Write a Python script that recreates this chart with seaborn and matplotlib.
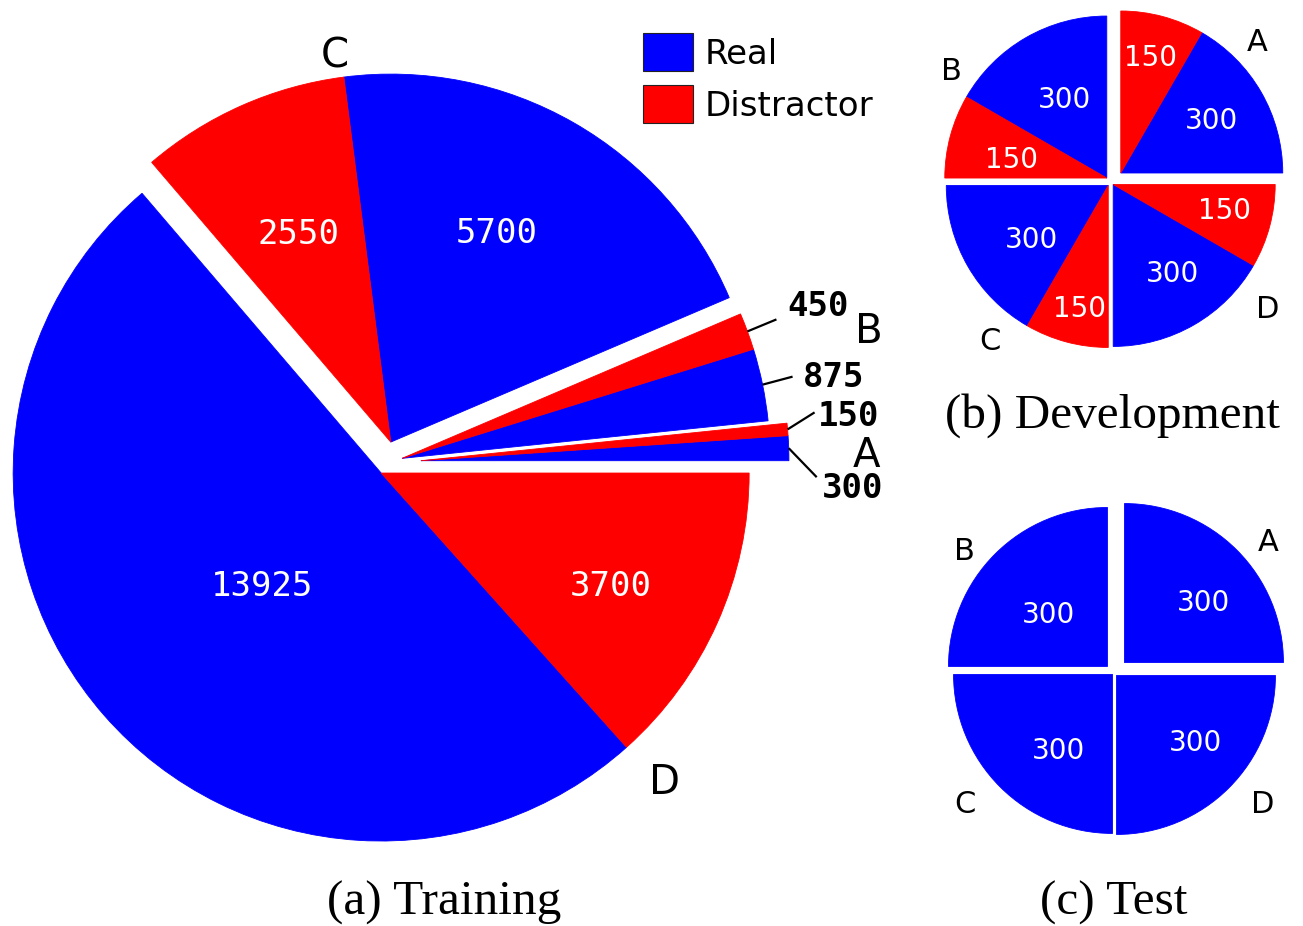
import numpy as np
import matplotlib
matplotlib.use("Agg")
import matplotlib.pyplot as plt
import seaborn as sns
from matplotlib.patches import Patch

# ---------------------------------------------------------------- data
groups = ["A", "B", "C", "D"]
series = ["Real", "Distractor"]

train_real = [300, 875, 5700, 13925]
train_distractor = [150, 450, 2550, 3700]

dev_real = [300, 300, 300, 300]
dev_distractor = [150, 150, 150, 150]

test_real = [300, 300, 300, 300]
test_distractor = [0, 0, 0, 0]

captions = ["(a) Training", "(b) Development", "(c) Test"]

# --------------------------------------------------------------- style
PALETTE = ["#0000FF", "#FF0000"]
sns.set_theme(style="white")
sns.set_palette(PALETTE)
plt.rcParams["font.family"] = ["DejaVu Sans"]
plt.rcParams["text.color"] = "black"

W, H = 1303, 926
fig = plt.figure(figsize=(W / 100, H / 100), dpi=100)


def pie_axes(cx, cy, r, xlim, ylim):
    """Axes whose unit length is r pixels, pie origin at pixel (cx, cy)."""
    left = cx + xlim[0] * r
    bottom = cy - ylim[0] * r
    ax = fig.add_axes([left / W, 1 - bottom / H,
                       (xlim[1] - xlim[0]) * r / W, (ylim[1] - ylim[0]) * r / H])
    return ax


def draw_pie(ax, real, distractor, explode, xlim, ylim):
    values = np.column_stack([real, distractor]).astype(float)
    total = values.sum()
    start = 0.0
    out = []
    for g, pair in enumerate(values):
        span = 360.0 * pair.sum() / total
        mid = np.deg2rad(start + span / 2)
        centre = (explode[g] * np.cos(mid), explode[g] * np.sin(mid))
        wedges, _ = ax.pie(pair / total, colors=PALETTE, startangle=start,
                           counterclock=True, normalize=False, center=centre,
                           radius=1.0, wedgeprops=dict(linewidth=0.6))
        for w, v in zip(wedges, pair):
            w.set_edgecolor(w.get_facecolor())
            w.set_visible(v > 0)
        out.append(wedges)
        start += span
    ax.set_xlim(*xlim)
    ax.set_ylim(*ylim)
    ax.set_axis_off()
    return values, out


def polar(w, ang_deg, frac):
    a = np.deg2rad(ang_deg)
    cx, cy = w.center
    return cx + frac * w.r * np.cos(a), cy + frac * w.r * np.sin(a)


def mid_angle(w):
    return 0.5 * (w.theta1 + w.theta2)


def inside_labels(ax, values, wedges, spec, **kw):
    for g in range(len(values)):
        for k in range(2):
            s = spec[2 * g + k]
            if s is None or values[g][k] == 0:
                continue
            w = wedges[g][k]
            x, y = polar(w, mid_angle(w) + s[0], s[1])
            ax.text(x, y, f"{int(values[g][k])}", color="white", ha="center",
                    va="center_baseline", clip_on=False, **kw)


def group_letters(ax, wedges, spec, size):
    for g, name in enumerate(groups):
        ang, frac = spec[g]
        x, y = polar(wedges[g][0], ang, frac)
        ax.text(x, y, name, ha="center", va="center_baseline", fontsize=size,
                color="black", clip_on=False)


# ------------------------------------------------------ (a) training pie
R_A = 368.0
lim_a = ((-1.04, 1.42), (-1.2, 1.22))
ax_a = pie_axes(386.0, 462.5, R_A, *lim_a)
tr_vals, tr_w = draw_pie(ax_a, train_real, train_distractor,
                         [0.095, 0.045, 0.057, 0.0315], *lim_a)

inside_labels(ax_a, tr_vals, tr_w,
              [None, None, None, None,
               (3.2, 0.644), (-0.4, 0.625), (1.5, 0.441), (-1.5, 0.692)],
              family="DejaVu Sans Mono", fontsize=24.5)

# small slices: labelled outside with leader lines (offsets in pixels)
leaders = {(0, 0): ((28, -29), (5, -8)),
           (0, 1): ((27, 17), (3, -1)),
           (1, 0): ((30, 8), (10, 3)),
           (1, 1): ((29, 12), (11, 16))}
for (g, k), ((lx, ly), (tx, ty)) in leaders.items():
    w = tr_w[g][k]
    x0, y0 = polar(w, mid_angle(w), 1.0)
    x1, y1 = x0 + lx / R_A, y0 + ly / R_A
    ax_a.plot([x0, x1], [y0, y1], color="black", lw=1.6, clip_on=False,
              solid_capstyle="butt")
    ax_a.text(x1 + tx / R_A, y1 + ty / R_A, f"{int(tr_vals[g][k])}",
              ha="left", va="center_baseline", family="DejaVu Sans Mono",
              fontweight="bold", fontsize=24.5, color="black", clip_on=False)

group_letters(ax_a, tr_w, [(1.2, 1.212), (15.7, 1.318), (98.1, 1.07), (312.9, 1.132)], 29)

# --------------------------------------------------- (b) development pie
R_B = 162.0
lim_b = ((-1.35, 1.35), (-1.35, 1.35))
ax_b = pie_axes(1111.25, 182.5, R_B, *lim_b)
dv_vals, dv_w = draw_pie(ax_b, dev_real, dev_distractor,
                         [0.083, 0.039, 0.026, 0.017], *lim_b)
inside_labels(ax_b, dv_vals, dv_w,
              [(1, 0.657), (1, 0.75), (-2.2, 0.565), (2.5, 0.6),
               (3.7, 0.573), (1.4, 0.765), (4.6, 0.65), (3, 0.705)],
              fontsize=20)
group_letters(ax_b, dv_w, [(44.5, 1.18), (144.8, 1.177), (232.4, 1.196), (321.7, 1.217)], 22)

# ---------------------------------------------------------- (c) test pie
R_C = 159.0
lim_c = ((-1.35, 1.35), (-1.35, 1.35))
ax_c = pie_axes(1114.0, 673.0, R_C, *lim_c)
ts_vals, ts_w = draw_pie(ax_c, test_real, test_distractor,
                         [0.093, 0.058, 0.013, 0.022], *lim_c)
inside_labels(ax_c, ts_vals, ts_w,
              [(-6.8, 0.636), None, (1.9, 0.504), None,
               (8.8, 0.573), None, (5.8, 0.642), None],
              fontsize=20)
group_letters(ax_c, ts_w, [(40.5, 1.187), (140.5, 1.162), (220.8, 1.226), (319.2, 1.217)], 22)

# -------------------------------------------------------------- legend
handles = [Patch(facecolor=c, edgecolor="#222222", linewidth=0.8) for c in PALETTE]
fig.legend(handles, series, loc="upper left", bbox_to_anchor=(643 / W, 1 - 33 / H),
           frameon=False, fontsize=24.5, handlelength=1.47, handleheight=1.36,
           handletextpad=0.34, labelspacing=0.40, borderpad=0, borderaxespad=0)

# ------------------------------------------------------------- captions
for text, (x, base) in zip(captions, [(444.5, 915), (1112.5, 428), (1113.5, 915)]):
    fig.text(x / W, 1 - base / H, text, ha="center", va="baseline",
             family="Liberation Serif", fontsize=35.5, color="black")

fig.savefig("out.png", dpi=100)
